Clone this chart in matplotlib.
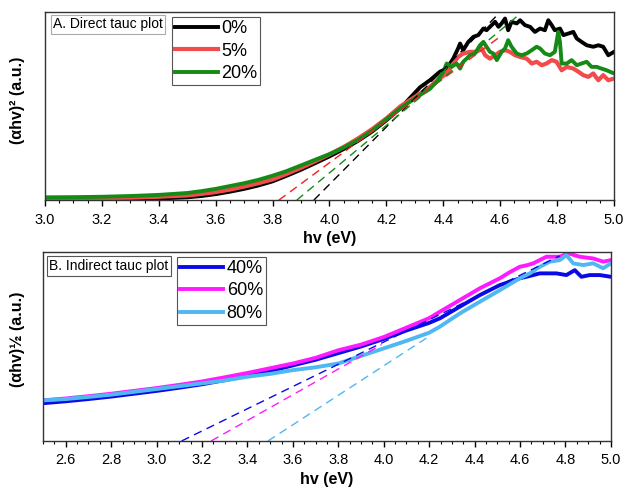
import matplotlib
matplotlib.use("Agg")
from matplotlib import pyplot as plt
from matplotlib.ticker import MultipleLocator, NullLocator, FormatStrFormatter

plt.rcParams['font.family'] = ['Liberation Sans', 'DejaVu Sans']

# ---- A. direct tauc plot ----
hv_low = [3.0, 3.1, 3.2, 3.3, 3.4, 3.5, 3.55, 3.6, 3.65, 3.7, 3.75, 3.8, 3.85,
          3.9, 3.95, 4.0, 4.05, 4.1, 4.15, 4.2, 4.25]

hv_0 = hv_low + [4.318, 4.353, 4.388, 4.412, 4.435, 4.452, 4.459, 4.470, 4.488, 4.506,
                 4.523, 4.541, 4.552, 4.564, 4.582, 4.594, 4.605, 4.617, 4.628, 4.640,
                 4.658, 4.670, 4.687, 4.705, 4.722, 4.740, 4.757, 4.769, 4.781, 4.792,
                 4.810, 4.822, 4.839, 4.857, 4.869, 4.886, 4.904, 4.927, 4.945, 4.962,
                 4.980, 5.0]
ab_0 = [0.005, 0.005, 0.005, 0.006, 0.009, 0.015, 0.022, 0.032, 0.045, 0.06, 0.078,
        0.10, 0.13, 0.162, 0.197, 0.233, 0.272, 0.315, 0.365, 0.425, 0.49,
        0.60, 0.638, 0.683, 0.700, 0.753, 0.807, 0.833, 0.798, 0.842, 0.869,
        0.878, 0.913, 0.904, 0.922, 0.949, 0.922, 0.940, 0.966, 0.904, 0.949,
        0.940, 0.957, 0.931, 0.922, 0.895, 0.913, 0.904, 0.957, 0.931, 0.904,
        0.913, 0.878, 0.886, 0.895, 0.860, 0.842, 0.824, 0.816, 0.824, 0.816,
        0.771, 0.789]

hv_5 = hv_low + [4.318, 4.353, 4.388, 4.412, 4.435, 4.452, 4.470, 4.494, 4.517, 4.535,
                 4.547, 4.564, 4.582, 4.599, 4.617, 4.634, 4.652, 4.670, 4.693, 4.711,
                 4.728, 4.746, 4.763, 4.781, 4.798, 4.816, 4.834, 4.857, 4.875, 4.892,
                 4.910, 4.927, 4.945, 4.962, 4.980, 5.0]
ab_5 = [0.01, 0.01, 0.011, 0.013, 0.018, 0.025, 0.033, 0.043, 0.056, 0.072, 0.09,
        0.11, 0.14, 0.172, 0.207, 0.243, 0.283, 0.328, 0.378, 0.435, 0.50,
        0.567, 0.603, 0.647, 0.674, 0.727, 0.762, 0.780, 0.789, 0.789, 0.807,
        0.771, 0.753, 0.771, 0.789, 0.798, 0.789, 0.771, 0.762, 0.753, 0.727,
        0.736, 0.718, 0.727, 0.745, 0.736, 0.691, 0.709, 0.700, 0.683, 0.665,
        0.656, 0.674, 0.638, 0.665, 0.638, 0.647]

hv_20 = hv_low + [4.318, 4.353, 4.376, 4.400, 4.412, 4.429, 4.447, 4.459, 4.470, 4.482,
                  4.494, 4.511, 4.529, 4.541, 4.552, 4.564, 4.576, 4.588, 4.605, 4.617,
                  4.628, 4.640, 4.658, 4.675, 4.693, 4.711, 4.728, 4.740, 4.757, 4.775,
                  4.792, 4.804, 4.810, 4.816, 4.834, 4.851, 4.869, 4.886, 4.904, 4.921,
                  4.939, 4.956, 4.974, 5.0]
ab_20 = [0.015, 0.016, 0.018, 0.022, 0.028, 0.038, 0.048, 0.06, 0.075, 0.09, 0.108,
         0.13, 0.155, 0.185, 0.215, 0.245, 0.28, 0.32, 0.37, 0.43, 0.49,
         0.559, 0.592, 0.629, 0.683, 0.727, 0.709, 0.727, 0.700, 0.736, 0.753,
         0.771, 0.780, 0.824, 0.842, 0.816, 0.789, 0.780, 0.745, 0.789, 0.807,
         0.851, 0.816, 0.780, 0.771, 0.780, 0.798, 0.816, 0.807, 0.780, 0.771,
         0.789, 0.895, 0.842, 0.727, 0.727, 0.745, 0.718, 0.727, 0.736, 0.709,
         0.709, 0.700, 0.691, 0.674]

# tangent lines (x, y end points)
fit_0 = ([3.945, 4.60], [0.0, 1.0])
fit_5 = ([3.822, 4.60], [0.0, 0.87])
fit_20 = ([3.885, 4.665], [0.0, 0.985])

# ---- B. indirect tauc plot ----
hv_b = [2.5, 2.6, 2.7, 2.8, 2.9, 3.0, 3.1, 3.2, 3.3, 3.4, 3.5, 3.6, 3.7, 3.8, 3.9,
        4.0, 4.1, 4.2]

hv_40 = hv_b + [4.247, 4.335, 4.423, 4.511, 4.599, 4.628, 4.687, 4.760, 4.804, 4.841,
                4.870, 4.907, 4.951, 5.0]
ab_40 = [0.20, 0.21, 0.222, 0.235, 0.25, 0.265, 0.282, 0.30, 0.322, 0.345, 0.37,
         0.40, 0.43, 0.465, 0.50, 0.54, 0.585, 0.625,
         0.649, 0.711, 0.772, 0.825, 0.861, 0.869, 0.887, 0.887, 0.878, 0.904,
         0.869, 0.878, 0.878, 0.869]

hv_60 = hv_b + [4.247, 4.335, 4.423, 4.511, 4.55, 4.599, 4.63, 4.658, 4.716, 4.775,
                4.812, 4.863, 4.922, 4.966, 5.0]
ab_60 = [0.215, 0.225, 0.237, 0.25, 0.265, 0.28, 0.297, 0.315, 0.337, 0.36, 0.385,
         0.41, 0.44, 0.48, 0.51, 0.55, 0.60, 0.65,
         0.684, 0.746, 0.808, 0.861, 0.89, 0.922, 0.93, 0.940, 0.975, 0.975,
         0.993, 0.975, 0.966, 0.949, 0.957]

hv_80 = hv_b + [4.247, 4.335, 4.423, 4.511, 4.599, 4.643, 4.687, 4.731, 4.775, 4.804,
                4.834, 4.878, 4.922, 4.966, 5.0]
ab_80 = [0.215, 0.222, 0.233, 0.245, 0.26, 0.275, 0.29, 0.305, 0.32, 0.34, 0.355,
         0.375, 0.39, 0.41, 0.45, 0.49, 0.53, 0.573,
         0.605, 0.675, 0.737, 0.798, 0.861, 0.887, 0.922, 0.949, 0.957, 0.984,
         0.940, 0.931, 0.940, 0.914, 0.940]

fit_40 = ([3.11, 4.775], [0.0, 0.98])
fit_60 = ([3.24, 3.99], [0.0, 0.51])
fit_80 = ([3.49, 4.195], [0.0, 0.55])

fig = plt.figure(figsize=(6.24, 4.87), dpi=100)
axA = fig.add_axes([0.072, 0.589, 0.912, 0.386])
axB = fig.add_axes([0.069, 0.0945, 0.910, 0.388])


def style(ax, xmin, ylabel):
    ax.set_xlim(xmin, 5.0)
    ax.set_ylim(0, 1)
    ax.xaxis.set_major_locator(MultipleLocator(0.2))
    ax.xaxis.set_minor_locator(MultipleLocator(0.05))
    ax.xaxis.set_major_formatter(FormatStrFormatter('%.1f'))
    ax.yaxis.set_major_locator(NullLocator())
    ax.tick_params(axis='x', which='major', direction='out', length=4, width=1,
                   labelsize=10.5, pad=5)
    ax.tick_params(axis='x', which='minor', direction='out', length=2, width=0.8)
    for sp in ax.spines.values():
        sp.set_linewidth(1.0)
        sp.set_color('#333333')
    ax.set_xlabel('hv (eV)', fontsize=11.5, fontweight='bold', labelpad=3)
    ax.set_ylabel(ylabel, fontsize=11.5, fontweight='bold')


legend_kw = dict(loc='upper left', fontsize=13, frameon=True, fancybox=False,
                 edgecolor='#555555', framealpha=1, handlelength=2.4,
                 handletextpad=0.2, labelspacing=0.3, borderpad=0.15,
                 borderaxespad=0)

# panel A
axA.plot(hv_0, ab_0, color='black', lw=2.8, label='0%')
axA.plot(hv_5, ab_5, color='#f24b4b', lw=3.0, label='5%')
axA.plot(hv_20, ab_20, color='#168a16', lw=2.8, label='20%')
axA.plot(*fit_0, color='black', lw=1.0, ls=(0, (6, 4)))
axA.plot(*fit_5, color='#f02020', lw=1.0, ls=(0, (6, 4)))
axA.plot(*fit_20, color='#168a16', lw=1.0, ls=(0, (6, 4)))
style(axA, 3.0, '(αhv)² (a.u.)')
axA.yaxis.set_label_coords(-0.035, 0.53)
axA.text(0.014, 0.972, 'A. Direct tauc plot', transform=axA.transAxes, fontsize=10,
         va='top', ha='left',
         bbox=dict(boxstyle='square,pad=0.15', fc='white', ec='#aaaaaa', lw=0.8))
legA = axA.legend(bbox_to_anchor=(0.223, 0.972), **legend_kw)
legA.get_frame().set_linewidth(0.8)

# panel B
axB.plot(hv_40, ab_40, color='#0a0ae6', lw=2.8, label='40%')
axB.plot(hv_60, ab_60, color='#ff1aff', lw=2.8, label='60%')
axB.plot(hv_80, ab_80, color='#4fb8f2', lw=2.8, label='80%')
axB.plot(*fit_40, color='#0a0ae6', lw=1.0, ls=(0, (6, 4)))
axB.plot(*fit_60, color='#ff1aff', lw=1.0, ls=(0, (6, 4)))
axB.plot(*fit_80, color='#4fb8f2', lw=1.0, ls=(0, (6, 4)))
style(axB, 2.5, '(αhv)½ (a.u.)')
axB.yaxis.set_label_coords(-0.032, 0.54)
axB.text(0.011, 0.962, 'B. Indirect tauc plot', transform=axB.transAxes, fontsize=10,
         va='top', ha='left',
         bbox=dict(boxstyle='square,pad=0.2', fc='white', ec='#555555', lw=0.8))
legB = axB.legend(bbox_to_anchor=(0.236, 0.972), **legend_kw)
legB.get_frame().set_linewidth(0.8)

fig.savefig('out.png', dpi=100)
